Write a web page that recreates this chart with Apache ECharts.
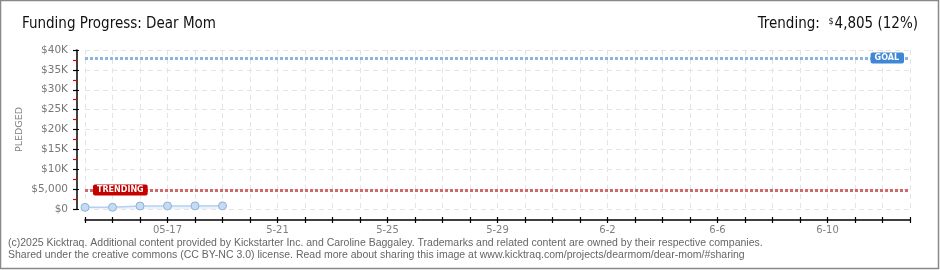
<!DOCTYPE html>
<html>
<head>
<meta charset="utf-8">
<script src="https://cdn.jsdelivr.net/npm/echarts@6/dist/echarts.min.js"></script>
<style>
html,body{margin:0;padding:0;background:#fff;}
#chart{width:940px;height:270px;}
</style>
</head>
<body>
<div id="chart"></div>
<script>
// ---- data ----
const categories = ['5-14','5-15','5-16','5-17','5-18','5-19','5-20','5-21','5-22','5-23','5-24','5-25','5-26','5-27','5-28','5-29','5-30','5-31','6-1','6-2','6-3','6-4','6-5','6-6','6-7','6-8','6-9','6-10','6-11','6-12','6-13'];
const tickLabels = {'5-17':'05-17','5-21':'5-21','5-25':'5-25','5-29':'5-29','6-2':'6-2','6-6':'6-6','6-10':'6-10'};
const pledged = [420, 430, 760, 770, 780, 790];
const trendingValue = 4805;
const goalValue = 38000;
const titleText = 'Funding Progress: Dear Mom';
const trendingText = '4,805 (12%)';
const footer1 = '(c)2025 Kicktraq. Additional content provided by Kickstarter Inc. and Caroline Baggaley. Trademarks and related content are owned by their respective companies.';
const footer2 = 'Shared under the creative commons (CC BY-NC 3.0) license. Read more about sharing this image at www.kicktraq.com/projects/dearmom/dear-mom/#sharing';

const chart = echarts.init(document.getElementById('chart'), null, {renderer:'canvas'});
const labelFont = 'DejaVu Sans';
const headFont = '"DejaVu Sans Condensed", "Liberation Sans", sans-serif';
const yFmt = v => v === 0 ? '$0' : (v === 5000 ? '$5,000' : '$' + (v/1000) + 'K');
const showIdx = (i, v) => tickLabels[v] !== undefined;

const option = {
  animation: false,
  backgroundColor: '#fff',
  grid: {left: 85, right: 30, top: 50, bottom: 61, containLabel: false},
  title: [
    {text: titleText, left: 17, top: 12, textStyle: {fontFamily: headFont, fontSize: 15, fontWeight: 'normal', color: '#111'}},
    {text: '{t|Trending:  }{d|$}{t|' + trendingText + '}', right: 17, top: 12,
     textStyle: {fontWeight: 'normal', rich: {
       t: {fontFamily: headFont, fontSize: 15, fontWeight: 'normal', color: '#111'},
       d: {fontFamily: headFont, fontSize: 9, fontWeight: 'normal', color: '#111', verticalAlign: 'top', padding: [0,1,6,0]}
     }}}
  ],
  graphic: [
    {type: 'rect', shape: {x: 0.5, y: 0.5, width: 938, height: 268}, style: {fill: 'none', stroke: '#888', lineWidth: 1.5}, silent: true, z: 100},
    {type: 'text', left: 8, top: 238, style: {text: footer1, font: '10.5px "Liberation Sans", sans-serif', fill: '#666'}},
    {type: 'text', left: 8, top: 250, style: {text: footer2, font: '10.5px "Liberation Sans", sans-serif', fill: '#666'}}
  ],
  xAxis: [
    {type: 'category', data: categories, boundaryGap: false, offset: 11,
     axisLine: {onZero: false, lineStyle: {color: '#000', width: 1.5}},
     axisTick: {show: true, interval: 0, length: 3, lineStyle: {color: '#000', width: 1.2}},
     axisLabel: {interval: showIdx, formatter: v => tickLabels[v] || '', color: '#808080', fontFamily: labelFont, fontSize: 10, margin: 5},
     splitLine: {show: true, interval: 0, lineStyle: {color: '#e4e4e4', type: [5,4], width: 1}}},
    {type: 'category', data: categories, boundaryGap: false, offset: 11, position: 'bottom',
     axisLine: {show: false, onZero: false},
     axisTick: {show: true, interval: 0, inside: true, length: 3, lineStyle: {color: '#000', width: 1.2}},
     axisLabel: {show: false}, splitLine: {show: false}}
  ],
  yAxis: [
    {type: 'value', min: 0, max: 40000, interval: 5000, offset: 8, position: 'left',
     name: 'PLEDGED', nameLocation: 'middle', nameGap: 52, nameRotate: 90, nameMoveOverlap: false,
     nameTextStyle: {color: '#808080', fontFamily: labelFont, fontSize: 9.5, letterSpacing: 1},
     axisLine: {show: true, onZero: false, lineStyle: {color: '#000', width: 1.5}},
     axisTick: {show: true, length: 4, lineStyle: {color: '#000', width: 1.2}},
     minorTick: {show: true, splitNumber: 2, length: 4, lineStyle: {color: '#e00000', width: 1.2}},
     axisLabel: {formatter: yFmt, color: '#777', fontFamily: labelFont, fontSize: 10.5, margin: 9},
     splitLine: {show: true, lineStyle: {color: '#e4e4e4', type: [5,4], width: 1}}},
    {type: 'value', min: 0, max: 40000, interval: 5000, offset: 8, position: 'left',
     axisLine: {show: false, onZero: false},
     axisTick: {show: true, inside: true, length: 2, lineStyle: {color: '#000', width: 1.2}},
     axisLabel: {show: false}, splitLine: {show: false}}
  ],
  series: [
    {type: 'line', data: pledged, xAxisIndex: 0, yAxisIndex: 0,
     symbol: 'circle', symbolSize: 8,
     itemStyle: {color: '#c4dbf3', borderColor: '#8fb2da', borderWidth: 1},
     lineStyle: {color: '#b6d1ee', width: 1.5},
     areaStyle: {color: '#eaf2fb', opacity: 1},
     z: 5,
     markLine: {
       silent: true, symbol: 'none', animation: false,
       data: [
         {yAxis: trendingValue,
          lineStyle: {color: '#d06a6a', type: [3,2], width: 3},
          label: {show: true, position: 'insideStartTop', distance: [8, 0], verticalAlign: 'middle', align: 'left',
                  formatter: 'TRENDING', color: '#fff', backgroundColor: '#c40000', borderRadius: 2,
                  padding: [2, 4, 1, 4], fontFamily: labelFont, fontSize: 8, fontWeight: 'bold'}},
         {yAxis: goalValue,
          lineStyle: {color: '#8cb4e0', type: [3,2], width: 3},
          label: {show: true, position: 'insideEndTop', distance: [6, 0], verticalAlign: 'middle', align: 'right',
                  formatter: 'GOAL', color: '#fff', backgroundColor: '#3f87d6', borderRadius: 2,
                  padding: [2, 5, 1, 4], fontFamily: labelFont, fontSize: 8, fontWeight: 'bold'}}
       ]
     }}
  ]
};
chart.setOption(option);
</script>
</body>
</html>
